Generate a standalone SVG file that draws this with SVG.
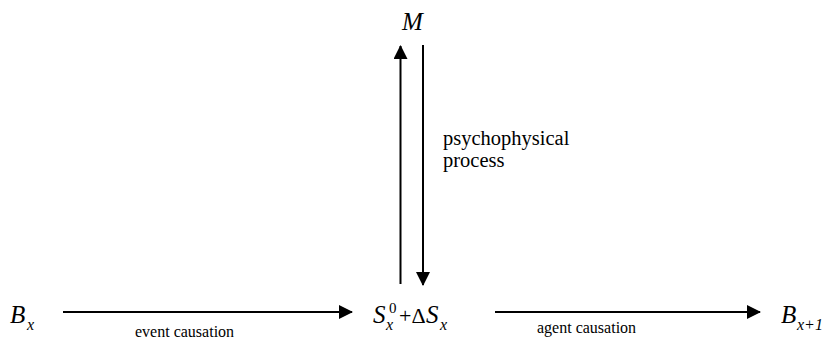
<svg xmlns="http://www.w3.org/2000/svg" width="826" height="340" viewBox="0 0 826 340">
<style>
text{font-family:"Liberation Serif","Times New Roman",serif;fill:#000}
.v{font-style:italic;font-size:25px}
.sub{font-style:italic;font-size:16px}
.up{font-size:15px}
.lbl{font-size:16px}
.ln{stroke:#000;stroke-width:2;fill:none}
</style>
<defs>
<marker id="ah" viewBox="0 0 14 14" markerWidth="14" markerHeight="14" refX="13" refY="7" orient="auto" markerUnits="userSpaceOnUse">
<path d="M0,0 L14,7 L0,14 Z" fill="#000"/>
</marker>
</defs>
<g id="M"><text class="v" x="402" y="30">M</text></g>
<g id="Bx"><text class="v" x="10" y="323">B</text><text class="sub" x="27" y="330">x</text></g>
<g id="S"><text class="v" x="373" y="323" font-size="23">S</text><text class="up" x="389" y="313">0</text><text class="sub" x="386" y="330">x</text><text x="399" y="323" font-size="22">+Δ</text><text class="v" x="426" y="323" font-size="23">S</text><text class="sub" x="440" y="330">x</text></g>
<g id="Bx1"><text class="v" x="781" y="323">B</text><text class="sub" x="797" y="330">x+1</text></g>
<g id="connectors">
<line class="ln" x1="63" y1="312" x2="352" y2="312" marker-end="url(#ah)"/>
<line class="ln" x1="495" y1="312" x2="760" y2="312" marker-end="url(#ah)"/>
<line class="ln" x1="400.5" y1="284" x2="400.5" y2="46" marker-end="url(#ah)"/>
<line class="ln" x1="423" y1="45" x2="423" y2="285" marker-end="url(#ah)"/>
</g>
<g id="labels">
<text x="443" y="145" font-size="20.5">psychophysical</text>
<text x="443" y="167" font-size="20.5">process</text>
<text class="lbl" x="135" y="337">event causation</text>
<text class="lbl" x="537" y="333">agent causation</text>
</g>
</svg>
